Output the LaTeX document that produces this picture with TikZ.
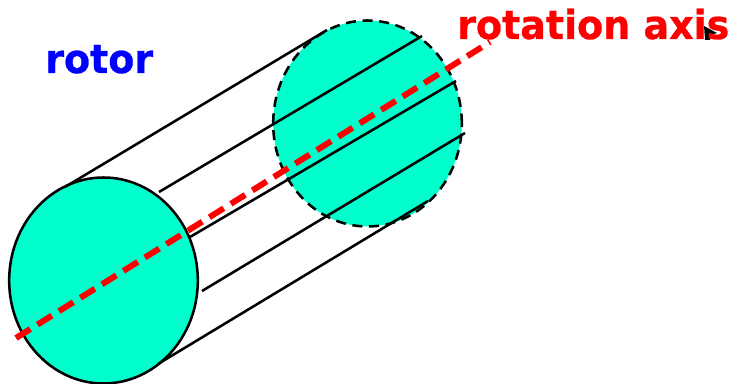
\documentclass[tikz,border=0pt]{standalone}
\usepackage{fontspec}
\setmainfont{DejaVu Sans}[FakeStretch=0.955]
\newfontfamily\lblfont{DejaVu Sans Bold}[FakeStretch=0.95,FakeBold=0.6]
\usetikzlibrary{shapes.geometric}
\definecolor{rotorfill}{RGB}{0,255,204}
\tikzset{
  disc/.style={ellipse,inner sep=0pt,outer sep=0pt,fill=rotorfill,draw=black,line width=1.9pt,minimum width=141.5pt,minimum height=154.5pt},
  edge/.style={draw=black,line width=1.9pt},
  axis/.style={draw=red,line width=4.5pt,dash pattern=on 12.7pt off 6.3pt},
  lbl/.style={font=\lblfont\fontsize{30}{30}\selectfont,inner sep=0pt}
}
\begin{document}
\begin{tikzpicture}[x=0.75pt,y=-0.75pt]
\useasboundingbox (0,0) rectangle (732,384);
\node[disc,dash pattern=on 7.5pt off 5pt] (back) at (367.5,123.5) {};
\coordinate (a1) at (65,187); \coordinate (b1) at (327,30);
\coordinate (a2) at (159,192); \coordinate (b2) at (422,36);
\coordinate (a3) at (190,237); \coordinate (b3) at (456,81);
\coordinate (a4) at (202,291); \coordinate (b4) at (465,133);
\coordinate (a5) at (158,364); \coordinate (b5) at (428,201);
\draw[edge] (a2) -- (b2);
\draw[edge] (a3) -- (b3);
\draw[edge] (a4) -- (b4);
\node[disc] (front) at (103.5,280.5) {};
\draw[edge] (a1) -- (b1);
\draw[edge] (a5) -- (b5);
\coordinate (r1) at (16,338); \coordinate (r2) at (490,42);
\draw[axis] (r1) -- (r2);
\fill[black] (704,26) -- (717,33) -- (711,35) -- (710,40) -- (705,40) -- cycle;
\node[lbl,text=blue,anchor=base west] (rotor) at (45,73) {rotor};
\node[lbl,text=red,anchor=base west] (axislabel) at (457,39) {rotation axis};
\end{tikzpicture}
\end{document}
